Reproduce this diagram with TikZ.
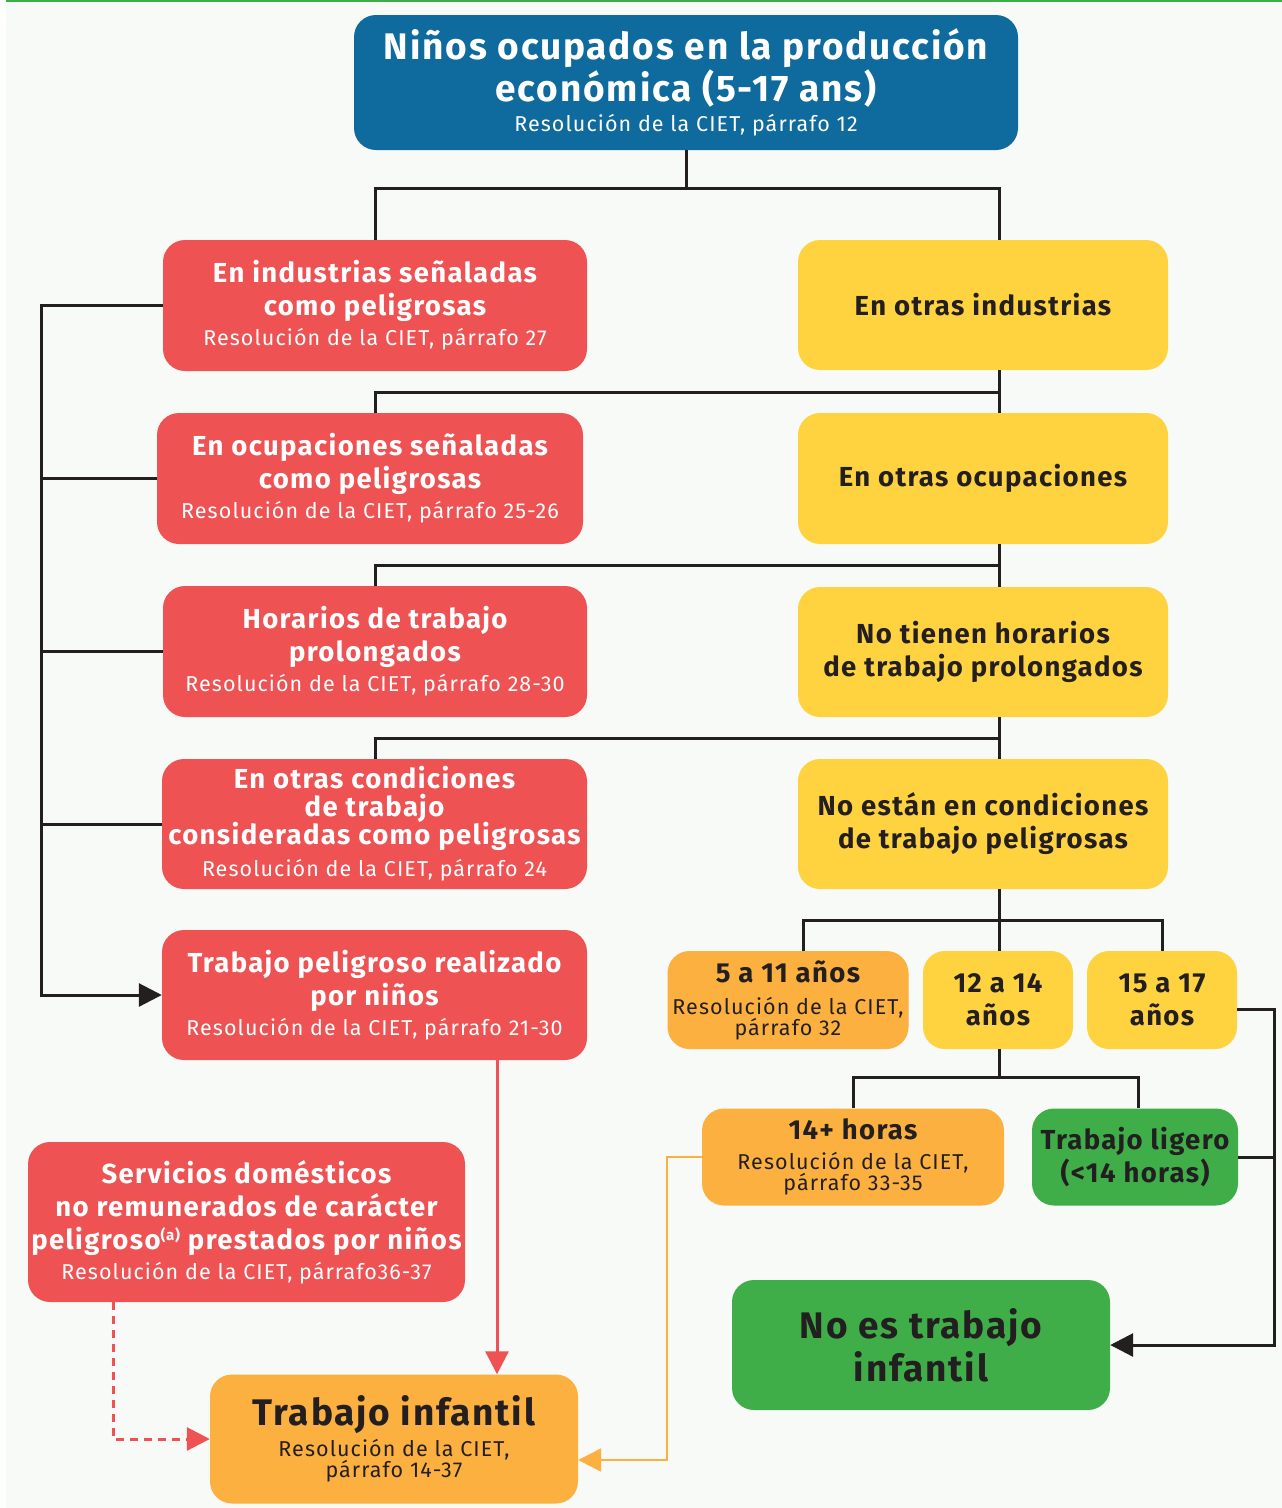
\documentclass[tikz,border=0pt]{standalone}
\usepackage{fontspec}
\setmainfont{Fira Sans}[LetterSpace=5]
\usetikzlibrary{arrows.meta,calc}
\definecolor{oitblue}{HTML}{0F6A9E}
\definecolor{oitred}{HTML}{EE5253}
\definecolor{oityellow}{HTML}{FFD340}
\definecolor{oitorange}{HTML}{FBB03F}
\definecolor{oitgreen}{HTML}{3FAE49}
\definecolor{oitdark}{HTML}{231F20}
\definecolor{oitbg}{HTML}{F8FAF7}
\newcommand{\hdA}{\fontsize{37}{42}\selectfont\bfseries}
\newcommand{\hdB}{\fontsize{27.5}{33}\selectfont\bfseries}
\newcommand{\hdC}{\fontsize{37}{43}\selectfont\bfseries}
\newcommand{\res}{\fontsize{21.5}{24}\selectfont\mdseries}
\newcommand{\nota}[1]{\raisebox{9pt}{\fontsize{15}{15}\selectfont #1}}

\begin{document}
\begin{tikzpicture}[x=1pt,y=-1pt,
  caja/.style 2 args={rounded corners=22pt,inner sep=0pt,align=center,minimum width=#1,minimum height=#2},
  roja/.style={fill=oitred,text=white,font=\hdB},
  amarilla/.style={fill=oityellow,text=oitdark,font=\hdB},
  naranja/.style={fill=oitorange,text=oitdark,font=\hdB},
  verde/.style={fill=oitgreen,text=oitdark,font=\hdB},
  enlace/.style={draw=oitdark,line width=3pt},
  punta/.style={-{Triangle[length=23pt,width=23pt]}}]
				\useasboundingbox (0,0) rectangle (1282,1508);
				\fill[white] (0,0) rectangle (1282,1508);
				\fill[oitbg] (6,2) rectangle (1282,1508);
				\draw[oitgreen,line width=2pt] (6,1) -- (1282,1);
				\coordinate (sp) at (999,0);
				\coordinate (lb) at (41,0);
				\coordinate (rb) at (1274,0);
				\coordinate (rx) at (497,0);
				\coordinate (dx) at (113,0);
				\coordinate (ox) at (667,0);
				\coordinate (oy) at (0,1460);
				\coordinate (d1) at (803,0);
				\node[caja={664pt}{135pt},fill=oitblue,text=white,font=\hdA] (ninos) at (686,82.5)
				{Niños ocupados en la producción\\económica (5-17 ans)\\[-12pt]{\res Resolución de la CIET, párrafo 12}};
				\node[caja={424pt}{131pt},roja] (indpel) at (375,305.5)
				{En industrias señaladas\\como peligrosas\\[-3pt]{\res Resolución de la CIET, párrafo 27}};
				\node[caja={426pt}{131pt},roja] (ocupel) at (370,478.5)
				{En ocupaciones señaladas\\como peligrosas\\[-3pt]{\res Resolución de la CIET, párrafo 25-26}};
				\node[caja={424pt}{131pt},roja] (horpro) at (375,651.5)
				{Horarios de trabajo\\prolongados\\[-3pt]{\res Resolución de la CIET, párrafo 28-30}};
				\node[caja={425pt}{130pt},roja] (condpel) at (374.5,824)
				{En otras condiciones\\[-5pt]de trabajo\\[-5pt]consideradas como peligrosas\\[-1pt]{\res Resolución de la CIET, párrafo 24}};
				\node[caja={425pt}{130pt},roja] (pelnin) at (374.5,995)
				{Trabajo peligroso realizado\\por niños\\[-3pt]{\res Resolución de la CIET, párrafo 21-30}};
				\node[caja={370pt}{130pt},amarilla] (otrind) at (983,305) {En otras industrias};
				\node[caja={370pt}{131pt},amarilla] (otrocu) at (983,478.5) {En otras ocupaciones};
				\node[caja={370pt}{130pt},amarilla] (nohor) at (983,652) {No tienen horarios\\de trabajo prolongados};
				\node[caja={370pt}{130pt},amarilla] (nocond) at (983,824) {No están en condiciones\\de trabajo peligrosas};
				\node[caja={241pt}{98pt},naranja] (edadA) at (788,1000)
				{5 a 11 años\\[-1pt]{\res Resolución de la CIET,}\\[-12pt]{\res párrafo 32}};
				\node[caja={150pt}{98pt},amarilla] (edadB) at (998,1000) {12 a 14\\años};
				\node[caja={150pt}{98pt},amarilla] (edadC) at (1162,1000) {15 a 17\\años};
				\node[caja={302pt}{97pt},naranja] (horas) at (853,1157)
				{14+ horas\\[-3pt]{\res Resolución de la CIET,}\\[-12pt]{\res párrafo 33-35}};
				\node[caja={206pt}{97pt},verde] (ligero) at (1135,1157) {Trabajo ligero\\(<14 horas)};
				\node[caja={378pt}{130pt},verde,font=\hdC] (noes) at (921,1345) {No es trabajo\\infantil};
				\node[caja={437pt}{160pt},roja] (domest) at (246.5,1222)
				{Servicios domésticos\\no remunerados de carácter\\peligroso\nota{(a)} prestados por niños\\[-3pt]{\res Resolución de la CIET, párrafo36-37}};
				\node[caja={368pt}{129pt},naranja] (infantil) at (394,1439)
				{{\hdC Trabajo infantil}\\[-2pt]{\res Resolución de la CIET,}\\[-12pt]{\res párrafo 14-37}};
				\draw[enlace] (ninos.south) -- ++(0,38) coordinate (k0);
				\draw[enlace] (indpel.north) |- (k0) -| (otrind.north -| sp);
				\draw[enlace] (otrind.south -| sp) -- (otrocu.north -| sp);
				\draw[enlace] (ocupel.north -| indpel.north) |- ($(otrind.south -| sp)+(0,22)$);
				\draw[enlace] (otrocu.south -| sp) -- (nohor.north -| sp);
				\draw[enlace] (horpro.north) |- ($(otrocu.south -| sp)+(0,21)$);
				\draw[enlace] (nohor.south -| sp) -- (nocond.north -| sp);
				\draw[enlace] (condpel.north -| indpel.north) |- ($(nohor.south -| sp)+(0,21)$);
				\draw[enlace,punta] (indpel.west) -| (lb |- pelnin.west) -- (pelnin.west);
				\draw[enlace] (ocupel.west) -- (ocupel.west -| lb);
				\draw[enlace] (horpro.west) -- (horpro.west -| lb);
				\draw[enlace] (condpel.west) -- (condpel.west -| lb);
				\draw[enlace] (nocond.south -| sp) -- ++(0,31) coordinate (k4);
				\draw[enlace] (edadA.north -| d1) |- (k4) -| (edadC.north);
				\draw[enlace] (k4) -- (edadB.north -| sp);
				\draw[enlace] (edadB.south -| sp) -- ++(0,28) coordinate (k5);
				\draw[enlace] (horas.north) |- (k5) -| ($(ligero.north)+(3,0)$);
				\draw[enlace,punta] ($(edadC.east)+(0,9)$) -| (rb |- noes.east) -- (noes.east);
				\draw[enlace] (ligero.east) -- (ligero.east -| rb);
				\draw[oitred,line width=3pt,punta] (pelnin.south -| rx) -- (infantil.north -| rx);
				\draw[oitred,line width=3pt,dash pattern=on 8pt off 6pt,punta] (domest.south -| dx) |- (infantil.west);
				\draw[oitorange,line width=2.5pt,punta] (horas.west) -| (ox |- oy) -- (infantil.east |- oy);
\end{tikzpicture}
\end{document}
